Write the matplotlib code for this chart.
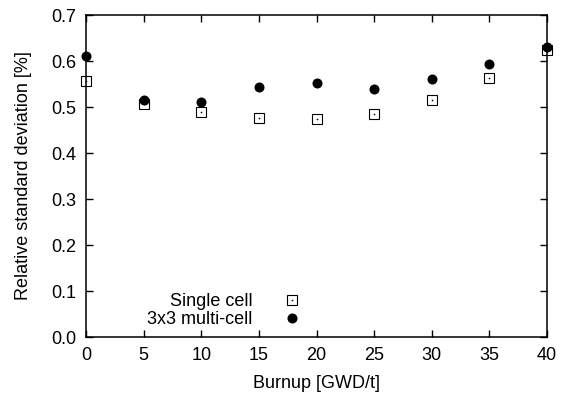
import matplotlib
matplotlib.use("Agg")
import matplotlib.pyplot as plt
from matplotlib.legend_handler import HandlerTuple

plt.rcParams['font.family'] = ['Liberation Sans', 'DejaVu Sans']

burnup = [0, 5, 10, 15, 20, 25, 30, 35, 40]
single_cell = [0.557, 0.507, 0.489, 0.477, 0.474, 0.485, 0.516, 0.564, 0.625]
multi_cell = [0.610, 0.515, 0.510, 0.543, 0.553, 0.540, 0.561, 0.594, 0.631]

xticks = [0, 5, 10, 15, 20, 25, 30, 35, 40]
yticks = [0.0, 0.1, 0.2, 0.3, 0.4, 0.5, 0.6, 0.7]

fig = plt.figure(figsize=(5.63, 4.03), dpi=100)
ax = fig.add_axes([86 / 563, 1 - 337 / 403, 461 / 563, 322 / 403])

# square with a dot in the middle, gnuplot style
sq, = ax.plot(burnup, single_cell, ls='none', marker='s', ms=6.5, mfc='none',
              mec='black', mew=0.8, clip_on=False, zorder=3)
dot, = ax.plot(burnup, single_cell, ls='none', marker='o', ms=1.2, mfc='black',
               mec='black', mew=0, clip_on=False, zorder=3)
circ, = ax.plot(burnup, multi_cell, ls='none', marker='o', ms=6.2, mfc='black',
                mec='black', clip_on=False, zorder=4)

ax.set_xlim(0, 40)
ax.set_ylim(0, 0.7)
ax.set_xticks(xticks)
ax.set_yticks(yticks)
ax.set_yticklabels([f"{v:.1f}" for v in yticks])
ax.tick_params(direction='in', top=True, right=True, length=5, width=1,
               labelsize=13, pad=7)
for s in ax.spines.values():
    s.set_linewidth(1.1)

ax.set_xlabel("Burnup [GWD/t]", fontsize=13, labelpad=8)
ax.set_ylabel("Relative standard deviation [%]", fontsize=13, labelpad=14)

ax.legend([(sq, dot), circ], ["Single cell", "3x3 multi-cell"],
          handler_map={tuple: HandlerTuple(ndivide=1, pad=0)},
          markerfirst=False, frameon=False, fontsize=13,
          handlelength=1.0, handletextpad=1.7, labelspacing=0.05,
          borderpad=0, borderaxespad=0,
          loc='center right', bbox_to_anchor=((301 - 86) / 461, (337 - 310.5) / 322))

fig.savefig("out.png", dpi=100)
